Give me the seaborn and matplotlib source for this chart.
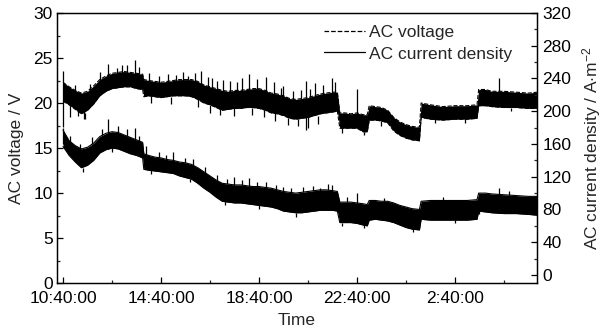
import numpy as np
import pandas as pd
import matplotlib
matplotlib.use("Agg")
import matplotlib.pyplot as plt
from matplotlib.lines import Line2D
from matplotlib.ticker import MultipleLocator
import seaborn as sns

# ---- data (hours after 10:40:00) ----
time_h = [0.0, 0.25, 0.5, 0.75, 1.0, 1.25, 1.5, 1.75, 2.0, 2.25, 2.5, 2.75, 3.0, 3.25, 3.3,
          3.5, 3.75, 4.0, 4.25, 4.5, 4.75, 5.0, 5.25, 5.5, 5.75, 6.0, 6.25, 6.5, 6.75, 7.0,
          7.25, 7.5, 7.75, 8.0, 8.25, 8.5, 8.75, 9.0, 9.25, 9.5, 9.75, 10.0, 10.25, 10.5,
          10.75, 11.0, 11.2, 11.3, 11.5, 11.75, 12.0, 12.25, 12.42, 12.5, 12.75, 13.0, 13.25,
          13.5, 13.75, 14.0, 14.25, 14.55, 14.62, 15.0, 15.5, 16.0, 16.5, 16.9, 16.97, 17.25,
          17.5, 18.0, 18.5, 19.0, 19.35]

voltage_hi = [22.3, 21.8, 21.4, 21.1, 21.3, 21.9, 22.6, 23.0, 23.3, 23.4, 23.5, 23.4, 23.3, 23.2, 22.6,
              22.5, 22.4, 22.3, 22.4, 22.5, 22.6, 22.6, 22.6, 22.4, 22.0, 21.8, 21.6, 21.4, 21.3, 21.4,
              21.4, 21.5, 21.6, 21.6, 21.4, 21.1, 21.0, 20.8, 20.5, 20.4, 20.5, 20.6, 20.8, 21.0,
              21.1, 21.2, 21.2, 18.9, 18.9, 18.8, 18.9, 18.7, 18.7, 19.7, 19.6, 19.5, 19.2,
              18.4, 17.9, 17.6, 17.4, 17.3, 20.0, 19.8, 19.6, 19.7, 19.7, 19.8, 21.5, 21.5,
              21.3, 21.3, 21.2, 21.1, 21.2]
voltage_lo = [20.2, 19.8, 19.3, 18.8, 19.2, 19.9, 20.8, 21.3, 21.6, 21.7, 21.8, 21.8, 21.6, 21.5, 20.7,
              20.8, 20.7, 20.6, 20.7, 20.8, 20.8, 20.8, 20.7, 20.4, 20.0, 19.8, 19.5, 19.2, 19.3, 19.4,
              19.4, 19.5, 19.5, 19.4, 19.2, 18.9, 18.8, 18.6, 18.3, 18.2, 18.3, 18.4, 18.6, 18.8,
              18.9, 19.0, 19.1, 17.2, 17.2, 17.2, 17.2, 16.8, 16.8, 18.1, 18.1, 18.0, 17.8,
              16.9, 16.4, 16.1, 15.9, 15.8, 18.4, 18.2, 18.1, 18.2, 18.2, 18.3, 19.7, 19.7,
              19.6, 19.5, 19.5, 19.4, 19.4]

current_hi = [177, 164, 158, 154, 156, 161, 169, 173, 175, 174, 171, 168, 165, 162, 148,
              146, 144, 143, 141, 140, 138, 137, 135, 131, 126, 121, 116, 112, 111, 110,
              110, 109, 108, 108, 107, 106, 104, 102, 101, 100, 101, 102, 103, 104,
              104, 103, 102, 89, 89, 89, 88, 87, 86, 91, 91, 90, 90,
              88, 85, 83, 81, 80, 90, 91, 91, 91, 91, 92, 100, 100,
              99, 98, 97, 96, 96]
current_lo = [157, 146, 138, 131, 134, 140, 149, 153, 155, 154, 151, 148, 146, 143, 129,
              128, 127, 126, 125, 124, 121, 119, 117, 112, 106, 101, 95, 90, 89, 88,
              88, 87, 86, 85, 84, 83, 81, 78, 77, 76, 76, 77, 78, 79,
              79, 79, 78, 64, 64, 64, 63, 61, 60, 67, 68, 67, 66,
              64, 61, 58, 56, 55, 68, 67, 67, 67, 67, 68, 78, 77,
              76, 75, 75, 74, 73]

# short excursions outside the band: (time, low, high)
voltage_spike_t = [0.0, 0.3, 0.85, 1.85, 2.2, 2.6, 2.93, 3.5, 4.6, 5.65, 6.1, 6.55, 7.3, 7.6,
                   7.9, 8.3, 9.0, 9.9, 10.0, 10.3, 11.0, 12.0, 17.8,
                   3.9, 4.3, 4.9, 5.1, 5.4, 5.9, 6.3, 6.8, 7.1, 8.6, 8.9, 9.4, 9.7, 10.1, 10.6,
                   11.1, 0.5, 1.1, 1.5, 2.4, 3.1,
                   3.6, 4.4, 5.5, 6.0, 6.4, 7.0, 7.7, 8.2, 8.65, 9.2, 9.6, 10.4, 0.9, 0.6, 11.4,
                   13.0, 15.2, 16.4, 18.3, 12.3]
voltage_spike_lo = [17.3, 18.5, 18.2, 22.5, 22.5, 23.0, 23.0, 22.0, 22.0, 21.5, 21.5, 21.0, 21.0, 21.2,
                    21.2, 21.0, 20.5, 17.0, 17.2, 20.5, 21.0, 18.5, 21.2,
                    22.2, 22.3, 22.5, 22.5, 22.3, 21.8, 21.4, 21.2, 21.3, 21.0, 20.7, 20.3, 20.3, 20.5, 20.9,
                    21.1, 21.3, 21.2, 22.5, 23.3, 23.2,
                    20.0, 19.9, 19.6, 18.9, 18.7, 18.6, 18.7, 18.4, 18.0, 17.6, 17.5, 17.7, 18.2, 18.6, 16.7,
                    17.5, 17.8, 17.8, 19.1, 16.4]
voltage_spike_hi = [23.6, 20.0, 19.2, 24.3, 23.9, 24.2, 24.8, 23.3, 23.1, 23.6, 22.8, 22.6, 22.8, 23.2,
                    22.7, 22.9, 21.9, 22.4, 18.5, 22.2, 22.8, 21.6, 22.8,
                    23.0, 23.2, 23.4, 23.0, 23.3, 22.9, 22.5, 22.4, 22.3, 22.3, 21.7, 21.3, 21.5, 21.6, 22.0,
                    22.3, 22.0, 22.1, 23.5, 24.2, 24.0,
                    20.8, 20.7, 20.4, 19.8, 19.5, 19.4, 19.5, 19.2, 18.9, 18.3, 18.2, 18.6, 18.9, 19.3, 17.2,
                    18.0, 18.2, 18.2, 19.5, 16.8]

current_spike_t = [0.0, 1.85, 2.25, 2.93, 3.4, 4.5, 5.3, 7.0, 7.6, 9.0, 10.5, 11.0, 12.0, 17.8,
                   0.3, 0.7, 1.2, 1.6, 2.6, 3.1, 3.9, 4.2, 5.0, 5.8, 6.3, 6.7, 7.3, 7.9, 8.3, 8.7,
                   9.3, 9.8, 10.2, 10.8, 11.6, 13.1, 15.5, 18.2,
                   0.8, 2.0, 3.6, 5.2, 6.6, 8.0, 9.5, 11.4, 12.3, 14.3, 16.0, 17.0]
current_spike_lo = [160, 165, 168, 160, 145, 138, 132, 108, 107, 100, 100, 100, 86, 98,
                    163, 154, 160, 171, 170, 163, 143, 141, 137, 125, 115, 111, 110, 108, 107, 104,
                    100, 101, 103, 104, 89, 90, 91, 98,
                    126, 150, 123, 113, 85, 80, 71, 60, 57, 52, 64, 74]
current_spike_hi = [180, 191, 182, 179, 157, 150, 142, 120, 118, 108, 106, 110, 100, 106,
                    170, 160, 168, 178, 178, 170, 150, 147, 143, 132, 122, 117, 116, 114, 113, 110,
                    106, 107, 109, 111, 95, 94, 95, 102,
                    131, 155, 128, 117, 90, 85, 76, 64, 61, 56, 67, 78]

xtick_pos = [0, 4, 8, 12, 16]
xtick_labels = ["10:40:00", "14:40:00", "18:40:00", "22:40:00", "2:40:00"]

# ---- styling ----
sns.set_style("white")
plt.rcParams["font.family"] = ["Liberation Sans", "DejaVu Sans"]
plt.rcParams["mathtext.fontset"] = "custom"
plt.rcParams["mathtext.rm"] = "Liberation Sans"
plt.rcParams["mathtext.it"] = "Liberation Sans:italic"
FS = 12.5

fig = plt.figure(figsize=(6.16, 3.31), dpi=100)
ax = fig.add_axes([57 / 616, 48 / 331, 480 / 616, 270 / 331])
ax2 = ax.twinx()

dfv = pd.DataFrame({"t": time_h, "hi": voltage_hi, "lo": voltage_lo})
dfc = pd.DataFrame({"t": time_h, "hi": current_hi, "lo": current_lo})

ax.fill_between(dfv["t"], dfv["lo"], dfv["hi"], color="black", lw=0)
sns.lineplot(data=dfv, x="t", y="hi", ax=ax, color="black", lw=0.8, linestyle="--", legend=False)
sns.lineplot(data=dfv, x="t", y="lo", ax=ax, color="black", lw=0.8, linestyle="--", legend=False)
ax.vlines(voltage_spike_t, voltage_spike_lo, voltage_spike_hi, color="black", lw=0.9)

ax2.fill_between(dfc["t"], dfc["lo"], dfc["hi"], color="black", lw=0)
sns.lineplot(data=dfc, x="t", y="hi", ax=ax2, color="black", lw=0.8, legend=False)
sns.lineplot(data=dfc, x="t", y="lo", ax=ax2, color="black", lw=0.8, legend=False)
ax2.vlines(current_spike_t, current_spike_lo, current_spike_hi, color="black", lw=0.9)

ax.set_xlim(-0.245, 19.35)
ax.set_ylim(0, 30)
ax2.set_ylim(-9.8, 320)

ax.yaxis.set_major_locator(MultipleLocator(5))
ax.yaxis.set_minor_locator(MultipleLocator(2.5))
ax2.set_yticks([0, 40, 80, 120, 160, 200, 240, 280, 320])
ax2.yaxis.set_minor_locator(MultipleLocator(20))
ax.set_xticks(xtick_pos)
ax.set_xticklabels(xtick_labels)
ax.xaxis.set_minor_locator(MultipleLocator(2))

for a in (ax, ax2):
    for s in a.spines.values():
        s.set_linewidth(0.9)
        s.set_color("black")
ax.tick_params(axis="both", which="major", direction="in", length=4, width=0.9,
               labelsize=FS, colors="black")
ax.tick_params(axis="both", which="minor", direction="in", length=2.5, width=0.9)
ax.tick_params(axis="x", which="both", bottom=True, top=False, pad=6)
ax.tick_params(axis="y", which="both", left=True, right=False, pad=3)
ax2.tick_params(axis="y", which="major", direction="in", length=4, width=0.9,
                labelsize=FS, colors="black", pad=4)
ax2.tick_params(axis="y", which="minor", direction="in", length=2.5, width=0.9)

ax.set_xlabel("Time", fontsize=FS, labelpad=5)
ax.set_ylabel("AC voltage / V", fontsize=FS, labelpad=7)
ax2.set_ylabel(r"AC current density / A$\cdot$m$^{-2}$", fontsize=FS, labelpad=6)

handles = [Line2D([], [], color="black", lw=0.9, linestyle="--"),
           Line2D([], [], color="black", lw=0.9, linestyle="-")]
ax.legend(handles, ["AC voltage", "AC current density"], loc="upper left",
          bbox_to_anchor=(0.53, 1.0), frameon=False, fontsize=FS,
          handlelength=2.4, handletextpad=0.2, labelspacing=0.35, borderaxespad=0.3)

fig.savefig("out.png", dpi=100)
